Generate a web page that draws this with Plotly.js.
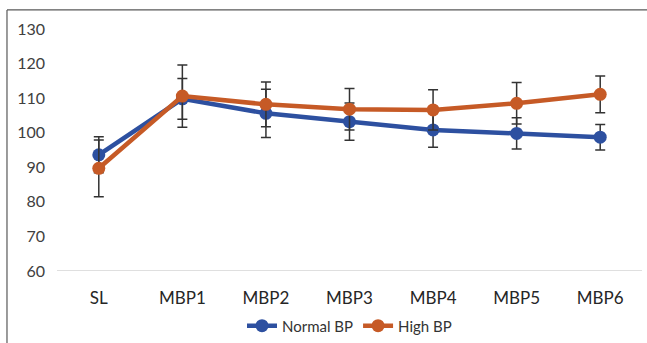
<!DOCTYPE html>
<html>
<head>
<meta charset="utf-8">
<script src="https://cdn.plot.ly/plotly-3.0.1.min.js"></script>
<style>html,body{margin:0;padding:0;background:#fff;}#chart{width:647px;height:343px;}</style>
</head>
<body>
<div id="chart"></div>
<script>
const categories = ["SL", "MBP1", "MBP2", "MBP3", "MBP4", "MBP5", "MBP6"];
const normalBP = [93.6, 109.8, 105.6, 103.2, 100.8, 99.8, 98.7];
const normalErr = [5.2, 5.9, 7.0, 5.4, 5.0, 4.5, 3.7];
const highBP = [89.7, 110.6, 108.2, 106.8, 106.6, 108.5, 111.1];
const highErr = [8.2, 9.0, 6.5, 6.0, 5.8, 6.0, 5.3];
const yTicks = [60, 70, 80, 90, 100, 110, 120, 130];

const errStyle = {type: 'data', visible: true, color: '#333333', thickness: 1.5, width: 5};

const traces = [
  {
    x: categories, y: normalBP, name: 'Normal BP', type: 'scatter', mode: 'lines+markers',
    line: {color: '#2D50A0', width: 4.5},
    marker: {color: '#2D50A0', size: 13},
    error_y: Object.assign({array: normalErr}, errStyle)
  },
  {
    x: categories, y: highBP, name: 'High BP', type: 'scatter', mode: 'lines+markers',
    line: {color: '#C65A26', width: 4.5},
    marker: {color: '#C65A26', size: 13},
    error_y: Object.assign({array: highErr}, errStyle)
  }
];

const layout = {
  width: 647, height: 343,
  margin: {l: 57, r: 5, t: 29, b: 72, pad: 0, autoexpand: false},
  paper_bgcolor: '#ffffff', plot_bgcolor: '#ffffff',
  font: {family: 'Lato, "Liberation Sans", sans-serif', color: '#404040'},
  showlegend: true,
  legend: {
    orientation: 'h', x: 0.5, xanchor: 'center', y: -0.227, yanchor: 'middle',
    font: {size: 15, color: '#333333'}, traceorder: 'normal'
  },
  xaxis: {
    type: 'category', range: [-0.5, 6.5], showgrid: false, zeroline: false,
    showline: false, ticks: '', tickfont: {size: 17, color: '#262626'},
    ticklabelstandoff: 15, fixedrange: true
  },
  yaxis: {
    range: [60, 130], tickvals: yTicks, ticktext: yTicks.map(String),
    showgrid: false, zeroline: false, showline: false, ticks: '',
    tickfont: {size: 16, color: '#404040'}, ticklabelstandoff: 11, fixedrange: true
  },
  shapes: [
    {type: 'line', xref: 'paper', yref: 'y', x0: 0, x1: 1, y0: 60, y1: 60,
     line: {color: '#BFBFBF', width: 1.2}, layer: 'below'},
    {type: 'line', xref: 'paper', yref: 'paper', x0: -0.0855, x1: 1.01, y0: 1.079, y1: 1.079,
     line: {color: '#595959', width: 1.2}},
    {type: 'line', xref: 'paper', yref: 'paper', x0: -0.0855, x1: -0.0855, y0: 1.079, y1: -0.31,
     line: {color: '#595959', width: 1.2}}
  ]
};

Plotly.newPlot('chart', traces, layout, {displayModeBar: false, staticPlot: true});
</script>
</body>
</html>
